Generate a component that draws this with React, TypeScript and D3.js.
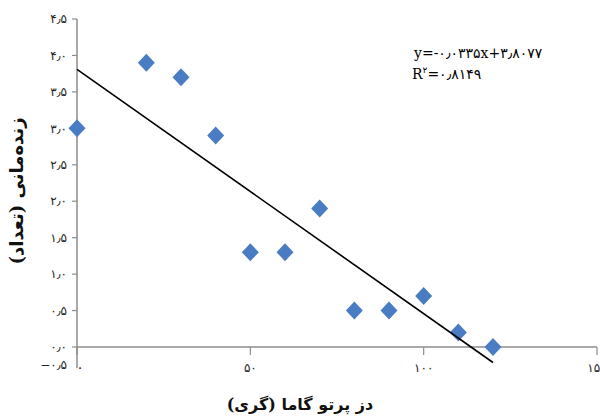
import React from "react";
import * as d3 from "d3";

const doses = [0, 20, 30, 40, 50, 60, 70, 80, 90, 100, 110, 120];
const survival = [3.0, 3.9, 3.7, 2.9, 1.3, 1.3, 1.9, 0.5, 0.5, 0.7, 0.2, 0.0];
const yTicks = [0, 0.5, 1, 1.5, 2, 2.5, 3, 3.5, 4, 4.5];
const yTickLabels = ["۰٫۰", "۰٫۵", "۱٫۰", "۱٫۵", "۲٫۰", "۲٫۵", "۳٫۰", "۳٫۵", "۴٫۰", "۴٫۵"];
const yMinLabel = "−۰٫۵";
const xTicks = [0, 50, 100, 150];
const xTickLabels = ["۰", "۵۰", "۱۰۰", "۱۵۰"];
const slope = -0.0335;
const intercept = 3.8077;
const eqText = "y=-۰٫۰۳۳۵x+۳٫۸۰۷۷";
const r2Text = "=۰٫۸۱۴۹";
const xTitle = "دز پرتو گاما (گری)";
const yTitle = "زنده‌مانی (تعداد)";

export default function App() {
  const W = 600, H = 418;
  const x = d3.scaleLinear().domain([0, 150]).range([77, 597]);
  const y = d3.scaleLinear().domain([0, 4.5]).range([347, 19]);
  const plotBottom = 368;
  const line = d3.line<number>().x((d) => x(d)).y((d) => y(slope * d + intercept));
  const axisColor = "#8c8c8c";
  const persianFont = "'DejaVu Serif', 'DejaVu Sans', serif";
  const diamond = (cx: number, cy: number) =>
    `M${cx},${cy - 9} L${cx + 8.5},${cy} L${cx},${cy + 9} L${cx - 8.5},${cy} Z`;

  return (
    <svg width={W} height={H} style={{ position: "absolute", left: 0, top: 0, background: "#fff" }}>
      {/* y axis */}
      <line x1={x(0)} x2={x(0)} y1={y(4.5)} y2={plotBottom} stroke={axisColor} strokeWidth={1.5} />
      {yTicks.map((t, i) => (
        <g key={"yt" + i}>
          <line x1={x(0) - 5} x2={x(0)} y1={y(t)} y2={y(t)} stroke={axisColor} strokeWidth={1.2} />
          <text x={67} y={y(t)} dy="0.35em" textAnchor="end" fontSize={12} fontFamily={persianFont} fill="#222">
            {yTickLabels[i]}
          </text>
        </g>
      ))}
      <text x={67} y={plotBottom} dy="0.1em" textAnchor="end" fontSize={12} fontFamily={persianFont} fill="#222">
        {yMinLabel}
      </text>
      {/* x axis at y=0 */}
      <line x1={x(0)} x2={x(150)} y1={y(0)} y2={y(0)} stroke={axisColor} strokeWidth={1.5} />
      {xTicks.map((t, i) => (
        <g key={"xt" + i}>
          <line x1={x(t)} x2={x(t)} y1={y(0)} y2={y(0) + 8} stroke={axisColor} strokeWidth={1.2} />
          <text x={i === 0 ? x(t) + 3 : x(t)} y={plotBottom} dy="0.3em" textAnchor="middle" fontSize={i === 0 ? 14 : 12} fontFamily={persianFont} fill="#222">
            {xTickLabels[i]}
          </text>
        </g>
      ))}
      {/* points */}
      {doses.map((d, i) => (
        <path key={"p" + i} d={diamond(x(d), y(survival[i]))} fill="#4a7cc3" />
      ))}
      {/* trendline */}
      <path d={line([0, 120]) || ""} fill="none" stroke="#000" strokeWidth={1.6} />
      {/* equation */}
      <text x={414} y={58} fontSize={14} fontFamily={persianFont} fill="#000">{eqText}</text>
      <text x={412} y={79} fontSize={14} fontFamily={persianFont} fill="#000">
        R<tspan dy={-6} fontSize={9}>۲</tspan><tspan dy={6}>{r2Text}</tspan>
      </text>
      {/* titles */}
      <text x={300} y={410} textAnchor="middle" fontSize={16} fontWeight="bold" fontFamily={persianFont} fill="#111">
        {xTitle}
      </text>
      <text transform={`translate(23, 191) rotate(-90)`} textAnchor="middle" fontSize={18} fontWeight="bold" fontFamily={persianFont} fill="#111">
        {yTitle}
      </text>
    </svg>
  );
}
